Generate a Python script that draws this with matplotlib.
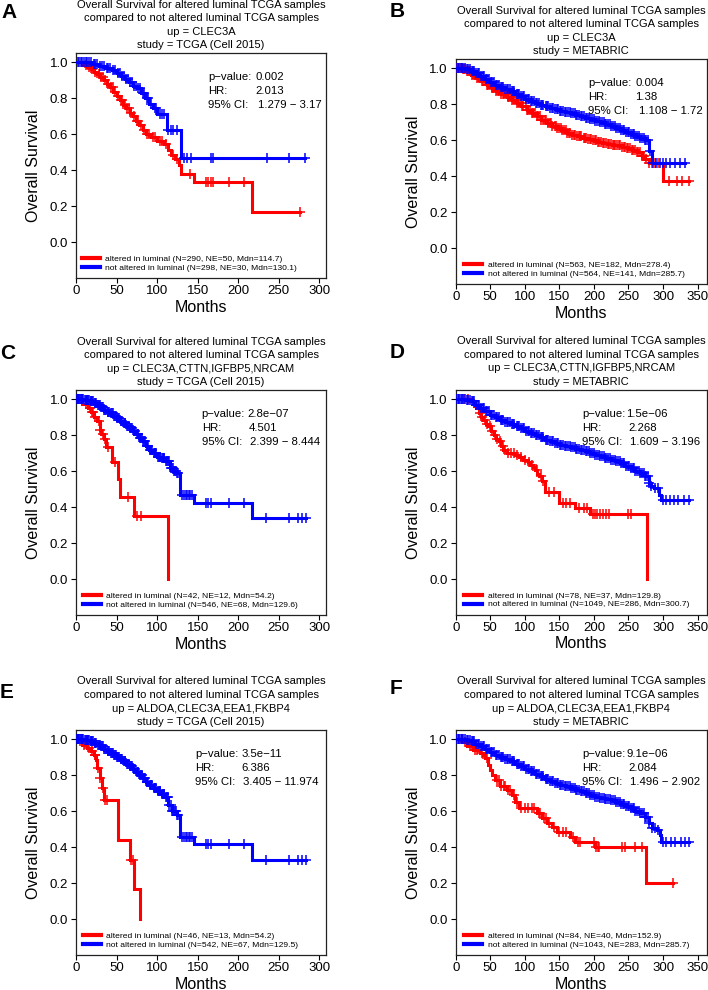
import numpy as np
import matplotlib
matplotlib.use("Agg")
import matplotlib.pyplot as plt
from matplotlib.lines import Line2D

plt.rcParams['font.family'] = ['Liberation Sans', 'DejaVu Sans']

# ---------------- data ----------------
panel_letters = ["A", "B", "C", "D", "E", "F"]
gene_sets = ["CLEC3A", "CLEC3A",
             "CLEC3A,CTTN,IGFBP5,NRCAM", "CLEC3A,CTTN,IGFBP5,NRCAM",
             "ALDOA,CLEC3A,EEA1,FKBP4", "ALDOA,CLEC3A,EEA1,FKBP4"]
studies = ["TCGA (Cell 2015)", "METABRIC", "TCGA (Cell 2015)", "METABRIC",
           "TCGA (Cell 2015)", "METABRIC"]
p_values = ["0.002", "0.004", "2.8e\u221207", "1.5e\u221206", "3.5e\u221211", "9.1e\u221206"]
hr_values = ["2.013", "1.38", "4.501", "2.268", "6.386", "2.084"]
ci_values = ["1.279 \u2212 3.17", "1.108 \u2212 1.72", "2.399 \u2212 8.444",
             "1.609 \u2212 3.196", "3.405 \u2212 11.974", "1.496 \u2212 2.902"]
altered_n = [290, 563, 42, 78, 46, 84]
altered_ne = [50, 182, 12, 37, 13, 40]
altered_mdn = ["114.7", "278.4", "54.2", "129.8", "54.2", "152.9"]
unaltered_n = [298, 564, 546, 1049, 542, 1043]
unaltered_ne = [30, 141, 68, 286, 67, 283]
unaltered_mdn = ["130.1", "285.7", "129.6", "300.7", "129.5", "285.7"]

# Panel A (TCGA, CLEC3A)
a_red_t = [9, 14, 18, 22, 26, 30, 34, 38, 42, 46, 50, 54, 58, 62, 66, 70, 74, 78, 82, 86,
           92, 100, 108, 113, 117, 122, 127, 129, 146, 217]
a_red_s = [0.985, 0.972, 0.96, 0.948, 0.935, 0.92, 0.9, 0.88, 0.86, 0.835, 0.815, 0.79, 0.765,
           0.745, 0.72, 0.7, 0.675, 0.65, 0.625, 0.60, 0.585, 0.565, 0.545, 0.51, 0.485, 0.46,
           0.43, 0.38, 0.335, 0.168]
a_red_cens = [12, 16, 20, 24, 28, 31, 33, 36, 40, 43, 45, 48, 52, 55, 57, 60, 63, 65, 68, 72,
              75, 77, 80, 84, 88, 90, 95, 98, 103, 106, 111, 119, 124, 140, 160, 163, 166, 169,
              189, 207, 276]
a_blue_t = [20, 28, 36, 44, 50, 55, 60, 65, 70, 75, 80, 85, 90, 95, 100, 112, 129]
a_blue_s = [0.99, 0.98, 0.968, 0.955, 0.94, 0.925, 0.905, 0.89, 0.87, 0.855, 0.83, 0.80, 0.77,
            0.745, 0.71, 0.625, 0.47]
a_blue_cens = [2, 4, 6, 8, 10, 12, 14, 16, 18, 22, 24, 26, 30, 32, 34, 38, 40, 42, 46, 48, 52,
               54, 57, 59, 62, 64, 67, 69, 72, 74, 77, 79, 82, 84, 87, 89, 92, 97, 99, 103, 106,
               109, 114, 117, 120, 125, 133, 137, 142, 167, 169, 235, 263, 282]

# Panel B (METABRIC, CLEC3A)
b_red_t = [8, 15, 22, 30, 37, 45, 52, 59, 66, 74, 81, 88, 95, 103, 110, 117, 124, 132, 139, 146,
           153, 161, 168, 175, 183, 190, 197, 204, 212, 219, 226, 233, 241, 248, 255, 262, 269,
           274, 279, 300]
b_red_s = [0.995, 0.983, 0.965, 0.946, 0.928, 0.909, 0.89, 0.872, 0.855, 0.839, 0.823, 0.807,
           0.789, 0.77, 0.752, 0.733, 0.715, 0.696, 0.682, 0.669, 0.655, 0.641, 0.632, 0.622,
           0.615, 0.609, 0.60, 0.591, 0.585, 0.58, 0.576, 0.572, 0.565, 0.557, 0.548, 0.535,
           0.515, 0.495, 0.472, 0.376]
b_red_cens = [1, 3, 5, 7, 10, 12, 14, 17, 19, 21, 24, 26, 28, 31, 33, 35, 38, 40, 42, 45, 47, 49,
              52, 54, 56, 59, 61, 63, 66, 68, 70, 73, 75, 77, 80, 82, 84, 87, 89, 91, 94, 96, 98,
              101, 103, 105, 108, 110, 112, 115, 117, 119, 122, 124, 126, 129, 131, 133, 136, 138,
              140, 143, 145, 147, 150, 152, 154, 157, 159, 161, 164, 166, 168, 171, 173, 175, 178,
              180, 182, 185, 187, 189, 192, 194, 196, 199, 201, 203, 206, 208, 210, 213, 215, 217,
              220, 222, 224, 227, 229, 231, 234, 236, 238, 241, 243, 245, 248, 250, 252, 255, 257,
              259, 262, 264, 266, 269, 271, 273, 276, 280, 284, 288, 292, 309, 320, 328, 337]
b_blue_t = [14, 21, 28, 35, 42, 50, 57, 64, 71, 79, 86, 93, 100, 108, 115, 122, 129, 137, 144,
            151, 158, 166, 173, 180, 187, 195, 202, 209, 216, 224, 231, 238, 245, 253, 260, 267,
            274, 280, 284]
b_blue_s = [0.995, 0.987, 0.972, 0.956, 0.94, 0.924, 0.909, 0.894, 0.883, 0.872, 0.858, 0.844,
            0.83, 0.817, 0.807, 0.798, 0.789, 0.78, 0.772, 0.765, 0.758, 0.752, 0.742, 0.733,
            0.726, 0.719, 0.71, 0.70, 0.689, 0.678, 0.668, 0.659, 0.647, 0.635, 0.624, 0.613,
            0.604, 0.543, 0.474]
meta_blue_cens = [1, 3, 5, 7, 9, 11, 13, 16, 18, 20, 23, 25, 27, 30, 32, 34, 37, 39, 41, 44, 46,
                  48, 51, 53, 55, 58, 60, 62, 65, 67, 69, 72, 74, 76, 78, 81, 83, 85, 88, 90, 92,
                  95, 97, 99, 102, 104, 106, 109, 111, 113, 116, 118, 120, 123, 125, 127, 130,
                  132, 134, 137, 139, 141, 144, 146, 148, 151, 153, 155, 158, 160, 162, 165, 167,
                  169, 172, 174, 176, 179, 181, 183, 186, 188, 190, 193, 195, 197, 200, 202, 204,
                  207, 209, 211, 214, 216, 218, 221, 223, 225, 228, 230, 232, 235, 237, 239, 242,
                  244, 246, 249, 251, 253, 256, 258, 260, 263, 265, 267, 270, 272, 274, 276, 278]
b_blue_cens = meta_blue_cens + [281, 285, 290, 295, 300, 305, 310, 318, 325, 332]

# Panel C (TCGA, 4 genes)
c_red_t = [8, 15, 19, 22, 26, 29, 31, 34, 37, 44, 52, 54, 71, 114]
c_red_s = [0.976, 0.952, 0.928, 0.904, 0.88, 0.83, 0.806, 0.782, 0.733, 0.65, 0.555, 0.46,
           0.35, 0.0]
c_red_cens = [12, 17, 20, 21, 24, 28, 30, 33, 36, 40, 48, 64, 75, 80]
c_blue_t = [10, 17, 22, 26, 30, 34, 38, 42, 46, 50, 54, 58, 62, 66, 70, 74, 78, 82, 86, 90, 95,
            100, 105, 110, 116, 120, 124, 128, 145, 217]
c_blue_s = [0.997, 0.99, 0.98, 0.97, 0.955, 0.94, 0.932, 0.925, 0.91, 0.896, 0.882, 0.868,
            0.854, 0.84, 0.824, 0.807, 0.787, 0.766, 0.743, 0.72, 0.70, 0.682, 0.672, 0.655,
            0.617, 0.60, 0.59, 0.468, 0.422, 0.338]
tcga_blue_cens = [1, 2, 3, 4, 5, 6, 7, 8, 9, 11, 12, 13, 14, 15, 16, 18, 19, 20, 21, 23, 24, 25,
                  27, 28, 29, 31, 32, 33, 35, 36, 37, 39, 40, 41, 43, 44, 45, 47, 48, 49, 51, 52,
                  53, 55, 56, 57, 59, 60, 61, 63, 64, 65, 67, 68, 69, 71, 72, 73, 75, 76, 77, 79,
                  80, 81, 83, 84, 85, 87, 88, 89, 91, 92, 93, 94, 96, 97, 98, 99, 101, 102, 103,
                  104, 106, 107, 108, 109, 111, 112, 113, 115, 117, 118, 119, 121, 122, 123, 125,
                  126, 131, 133, 135, 137, 139, 141, 143, 160, 163, 166, 189, 207, 234, 263, 274,
                  278, 284]
c_blue_cens = tcga_blue_cens

# Panel D (METABRIC, 4 genes)
d_red_t = [22, 26, 30, 33, 37, 40, 44, 47, 51, 55, 58, 62, 66, 69, 74, 86, 92, 98, 104, 108,
           112, 115, 118, 121, 125, 129, 149, 172, 195, 277]
d_red_s = [0.987, 0.96, 0.948, 0.922, 0.90, 0.885, 0.86, 0.848, 0.82, 0.80, 0.78, 0.764, 0.74,
           0.718, 0.70, 0.69, 0.676, 0.662, 0.648, 0.635, 0.62, 0.607, 0.585, 0.57, 0.542,
           0.486, 0.421, 0.393, 0.36, 0.0]
d_red_cens = [5, 12, 18, 35, 38, 42, 45, 49, 53, 57, 60, 64, 68, 71, 76, 80, 84, 88, 95, 100,
              106, 110, 117, 123, 127, 135, 142, 155, 160, 165, 178, 185, 190, 198, 201, 205,
              209, 213, 217, 222, 250, 253]
d_blue_t = [14, 21, 28, 35, 42, 50, 57, 64, 71, 79, 86, 93, 100, 108, 115, 122, 129, 137, 144,
            151, 158, 166, 173, 180, 187, 195, 202, 209, 216, 224, 231, 238, 245, 253, 260, 267,
            274, 279, 282, 287, 294, 297]
d_blue_s = [0.995, 0.987, 0.968, 0.95, 0.932, 0.913, 0.899, 0.885, 0.873, 0.861, 0.85, 0.839,
            0.825, 0.811, 0.799, 0.787, 0.775, 0.764, 0.755, 0.746, 0.738, 0.731, 0.724, 0.718,
            0.709, 0.70, 0.69, 0.681, 0.672, 0.662, 0.653, 0.644, 0.63, 0.616, 0.602, 0.588,
            0.575, 0.532, 0.514, 0.505, 0.467, 0.44]
d_blue_cens = meta_blue_cens + [280, 283, 288, 292, 300, 305, 310, 316, 322, 330, 338]

# Panel E (TCGA, ALDOA set)
e_red_t = [7, 13, 19, 22, 25, 26, 29, 32, 34, 52, 66, 72, 79]
e_red_s = [0.97, 0.952, 0.933, 0.914, 0.886, 0.84, 0.784, 0.73, 0.665, 0.443, 0.332, 0.166, 0.0]
e_red_cens = [10, 16, 20, 23, 24, 27, 30, 33, 36, 38, 68, 70]
e_blue_t = [10, 17, 22, 26, 30, 34, 38, 42, 46, 50, 54, 58, 62, 66, 70, 74, 78, 82, 86, 90, 95,
            100, 105, 110, 114, 118, 124, 128, 145, 217]
e_blue_s = [0.997, 0.99, 0.98, 0.97, 0.96, 0.948, 0.936, 0.924, 0.912, 0.90, 0.89, 0.879,
            0.865, 0.85, 0.835, 0.82, 0.802, 0.784, 0.765, 0.747, 0.728, 0.71, 0.695, 0.68,
            0.635, 0.60, 0.58, 0.458, 0.42, 0.331]
e_blue_cens = tcga_blue_cens

# Panel F (METABRIC, ALDOA set)
f_red_t = [12, 16, 25, 35, 40, 43, 47, 50, 52, 57, 64, 74, 81, 86, 91, 118, 125, 132, 139, 146,
           166, 173, 202, 275]
f_red_s = [0.985, 0.961, 0.942, 0.924, 0.91, 0.896, 0.859, 0.83, 0.803, 0.775, 0.738, 0.72,
           0.691, 0.654, 0.617, 0.589, 0.561, 0.533, 0.515, 0.487, 0.459, 0.431, 0.403, 0.204]
f_red_cens = [5, 9, 14, 20, 23, 28, 31, 38, 45, 60, 62, 66, 70, 72, 76, 78, 84, 88, 95, 100, 105,
              110, 113, 120, 122, 128, 130, 135, 142, 150, 155, 160, 170, 177, 180, 200, 203,
              206, 208, 240, 245, 260, 270, 315]
f_blue_t = [14, 21, 28, 35, 42, 50, 57, 64, 71, 79, 86, 93, 100, 108, 115, 122, 129, 137, 144,
            151, 158, 166, 173, 180, 187, 195, 202, 209, 216, 224, 231, 238, 245, 253, 260, 267,
            274, 279, 284, 291, 295, 297]
f_blue_s = [0.995, 0.988, 0.974, 0.96, 0.945, 0.929, 0.915, 0.90, 0.888, 0.877, 0.863, 0.85,
            0.836, 0.822, 0.808, 0.794, 0.78, 0.766, 0.756, 0.747, 0.738, 0.729, 0.72, 0.71,
            0.70, 0.691, 0.682, 0.673, 0.668, 0.664, 0.652, 0.639, 0.628, 0.617, 0.603, 0.589,
            0.571, 0.533, 0.506, 0.496, 0.468, 0.431]
f_blue_cens = meta_blue_cens + [280, 284, 289, 292, 300, 304, 312, 318, 326, 332, 338]

curves = [
    (a_red_t, a_red_s, a_red_cens, a_blue_t, a_blue_s, a_blue_cens),
    (b_red_t, b_red_s, b_red_cens, b_blue_t, b_blue_s, b_blue_cens),
    (c_red_t, c_red_s, c_red_cens, c_blue_t, c_blue_s, c_blue_cens),
    (d_red_t, d_red_s, d_red_cens, d_blue_t, d_blue_s, d_blue_cens),
    (e_red_t, e_red_s, e_red_cens, e_blue_t, e_blue_s, e_blue_cens),
    (f_red_t, f_red_s, f_red_cens, f_blue_t, f_blue_s, f_blue_cens),
]

# ---------------- layout (pixels) ----------------
W, H = 708, 990
rects = [(76, 53.3, 326, 278.3), (455.7, 59.3, 707, 284.3),
         (76, 390.3, 326, 615.3), (455.7, 390.0, 707, 615.0),
         (76, 730.3, 326, 955.3), (455.7, 730.3, 707, 955.3)]
letter_pos = [(1.0, 18.5), (390.0, 17), (0, 359), (390.0, 357.5), (0, 698), (390.0, 693.5)]
label_x = [0.529, 0.528, 0.503, 0.502, 0.476, 0.502]
val_x = [(0.716, 0.716, 0.729), (0.714, 0.714, 0.728), (0.686, 0.689, 0.697),
         (0.680, 0.688, 0.694), (0.664, 0.662, 0.669), (0.680, 0.688, 0.694)]
legend_x = [0.023, 0.033, 0.027, 0.033, 0.027, 0.033]

RED = "#FF0000"
BLUE = "#0000FF"

fig = plt.figure(figsize=(W / 100, H / 100), dpi=100)


def km(ax, t, s, cens, color):
    t = np.asarray(t, float)
    s = np.asarray(s, float)
    cens = np.asarray(cens, float)
    end = max(t[-1], cens.max())
    x = np.concatenate([[0.0], t, [end]])
    y = np.concatenate([[1.0], s, [s[-1]]])
    ax.step(x, y, where="post", color=color, lw=2.2, solid_joinstyle="miter", zorder=3)
    idx = np.searchsorted(t, cens, side="right") - 1
    cy = np.where(idx < 0, 1.0, s[np.clip(idx, 0, None)])
    ax.plot(cens, cy, ls="none", marker="+", ms=7.0, mew=1.1, color=color, zorder=3)


for i in range(6):
    l, t_, r, b = rects[i]
    ax = fig.add_axes([l / W, 1 - b / H, (r - l) / W, (b - t_) / H])
    rt, rs, rc, bt, bs, bc = curves[i]
    km(ax, rt, rs, rc, RED)
    km(ax, bt, bs, bc, BLUE)

    left_col = (i % 2 == 0)
    if left_col:
        ax.set_xlim(0, 308.2)
        ax.set_xticks([0, 50, 100, 150, 200, 250, 300])
    else:
        ax.set_xlim(0, 363.6)
        ax.set_xticks([0, 50, 100, 150, 200, 250, 300, 350])
    ax.set_ylim(-0.2, 1.05)
    ax.set_yticks([0.0, 0.2, 0.4, 0.6, 0.8, 1.0])
    ax.set_yticklabels(["0.0", "0.2", "0.4", "0.6", "0.8", "1.0"])
    ax.tick_params(axis="both", direction="out", length=3.6, width=0.8, labelsize=9.5,
                   colors="black")
    ax.tick_params(axis="x", pad=1.5)
    ax.tick_params(axis="y", pad=2.0)
    for sp in ax.spines.values():
        sp.set_linewidth(0.9)
        sp.set_color("#222222")

    hpx = b - t_
    wpx = r - l
    ax.set_ylabel("Overall Survival", fontsize=11.5, va="center")
    ax.yaxis.set_label_coords(-42.5 / wpx, 0.5)
    ax.set_xlabel("Months", fontsize=11.5, va="center")
    ax.xaxis.set_label_coords(0.5, -29.0 / hpx)

    title = ("Overall Survival for altered luminal TCGA samples\n"
             "compared to not altered luminal TCGA samples\n"
             "up = " + gene_sets[i] + "\n"
             "study = " + studies[i])
    ax.text(0.5, 1 + 3.0 / hpx, title, transform=ax.transAxes, ha="center", va="bottom",
            fontsize=8.0, linespacing=1.45)

    ys = [1 - 23.7 / hpx, 1 - 38.0 / hpx, 1 - 52.0 / hpx]
    labs = ["p\u2212value:", "HR:", "95% CI:"]
    vals = [p_values[i], hr_values[i], ci_values[i]]
    for k in range(3):
        ax.text(label_x[i], ys[k], labs[k], transform=ax.transAxes, ha="left", va="center",
                fontsize=8.2)
        ax.text(val_x[i][k], ys[k], vals[k], transform=ax.transAxes, ha="left", va="center",
                fontsize=8.2)

    handles = [Line2D([], [], color=RED, lw=3.0), Line2D([], [], color=BLUE, lw=3.0)]
    labels = [
        "altered in luminal (N=%d, NE=%d, Mdn=%s)" % (altered_n[i], altered_ne[i], altered_mdn[i]),
        "not altered in luminal (N=%d, NE=%d, Mdn=%s)" % (unaltered_n[i], unaltered_ne[i],
                                                         unaltered_mdn[i]),
    ]
    ax.legend(handles, labels, loc="lower left", bbox_to_anchor=(legend_x[i], 6.5 / hpx),
              frameon=False, fontsize=6.1, borderpad=0, borderaxespad=0, handlelength=2.1,
              handletextpad=0.7, labelspacing=0.12)

    lx, ly = letter_pos[i]
    fig.text(lx / W, 1 - ly / H, panel_letters[i], fontsize=15, fontweight="bold",
             ha="left", va="baseline")

fig.savefig("out.png", dpi=100)
